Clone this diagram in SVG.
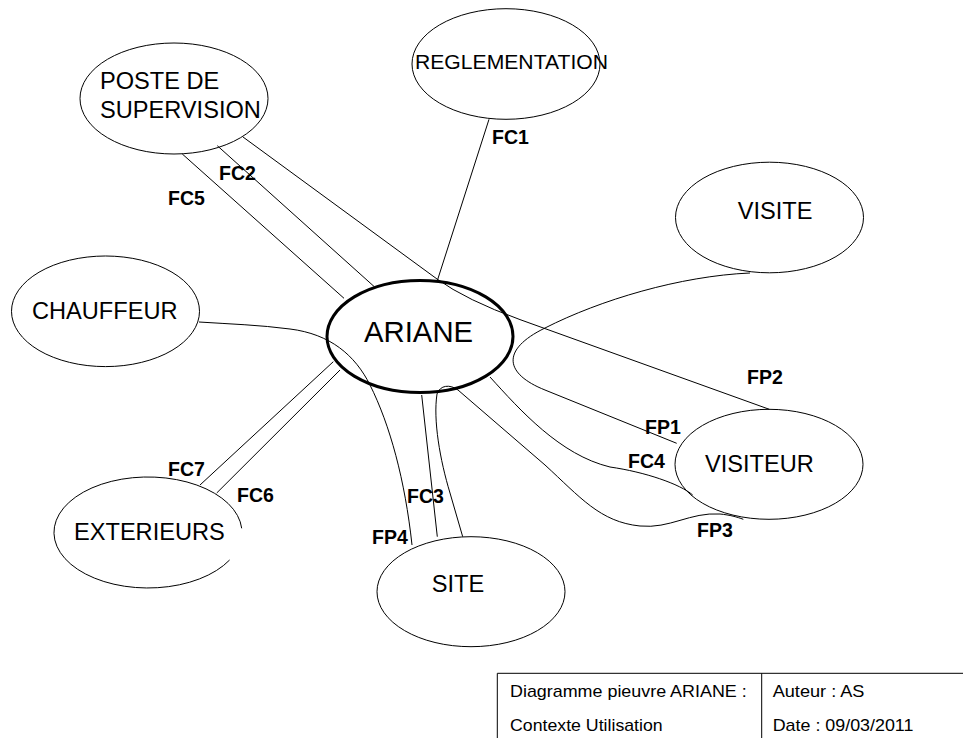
<svg xmlns="http://www.w3.org/2000/svg" width="963" height="738" viewBox="0 0 963 738">
<style>
.n{fill:#fff;stroke:#000;stroke-width:1}
.c{fill:none;stroke:#000;stroke-width:1}
.t{font-family:"Liberation Sans",Arial,sans-serif;font-size:23.6px;fill:#000}
.l{font-family:"Liberation Sans",Arial,sans-serif;font-size:19.5px;font-weight:bold;fill:#000}
.s{font-family:"Liberation Sans",Arial,sans-serif;font-size:17px;fill:#000}
</style>
<rect width="963" height="738" fill="#fff"/>
<g id="node-poste">
<ellipse class="n" cx="174" cy="98.5" rx="94" ry="55.5"/>
<text class="t" x="100" y="89">POSTE DE</text>
<text class="t" x="100" y="118">SUPERVISION</text>
</g>
<g id="node-reglementation">
<ellipse class="n" cx="506" cy="64" rx="94" ry="55.3"/>
<text class="t" x="415" y="69" style="font-size:20.6px" textLength="193" lengthAdjust="spacingAndGlyphs">REGLEMENTATION</text>
</g>
<g id="node-visite">
<ellipse class="n" cx="769.5" cy="217.5" rx="94" ry="55.3"/>
<text class="t" x="737.7" y="219">VISITE</text>
</g>
<g id="node-chauffeur">
<ellipse class="n" cx="105.5" cy="311.3" rx="94" ry="55.3"/>
<text class="t" x="32" y="319.3">CHAUFFEUR</text>
</g>
<g id="node-exterieurs">
<path class="n" d="M241.7,528.3 A94,55.5 0 1 0 229.6,560"/>
<text class="t" x="74" y="540">EXTERIEURS</text>
</g>
<g id="node-visiteur">
<ellipse class="n" cx="769" cy="464.3" rx="94" ry="55"/>
<text class="t" x="705" y="471.7">VISITEUR</text>
</g>
<g id="node-site">
<ellipse class="n" cx="471" cy="591.7" rx="94" ry="55"/>
<text class="t" x="431.7" y="591.7">SITE</text>
</g>
<g id="connectors">
<path class="c" d="M489,119.3 L437.3,280.7"/>
<path class="c" d="M182.3,154 L344,298.3"/>
<path class="c" d="M217.3,145.7 L374.3,286.7"/>
<path class="c" d="M243,137 L437,279 Q466,300 520,319.6 L769.3,409.3"/>
<path class="c" d="M750,273 C680,276 600,300 545,328 C500,350 505,374 545,390 L676.7,443.3"/>
<path class="c" d="M490,377 C520,410 560,455 610,467 C645,472 680,484 692.7,495"/>
<path class="c" d="M437,394 C440,385 450,384 458,390 L545,465 C580,497 600,522 640,526 C670,529 690,512 720,514 C730,515 737,517 743.3,519.3"/>
<path class="c" d="M421.7,395 L437.3,536.7"/>
<path class="c" d="M437,394 C433,420 440,460 450,493 L462.7,536.7"/>
<path class="c" d="M199,322 C230,324 260,325 290,329 C330,334 355,355 370,385 C390,425 405,480 412,545"/>
<path class="c" d="M200,485 L333.3,361.7"/>
<path class="c" d="M216.7,493 L340,370"/>
</g>
<g id="node-ariane">
<ellipse cx="420" cy="336.5" rx="93" ry="56" fill="none" stroke="#000" stroke-width="3"/>
<text class="t" x="364" y="341.7" style="font-size:29.3px">ARIANE</text>
</g>
<g id="labels">
<text class="l" x="492" y="144">FC1</text>
<text class="l" x="219" y="180">FC2</text>
<text class="l" x="168" y="205">FC5</text>
<text class="l" x="168" y="476">FC7</text>
<text class="l" x="237" y="502">FC6</text>
<text class="l" x="747" y="384">FP2</text>
<text class="l" x="645" y="434">FP1</text>
<text class="l" x="628" y="468">FC4</text>
<text class="l" x="697" y="537">FP3</text>
<text class="l" x="407" y="503">FC3</text>
<text class="l" x="372" y="544">FP4</text>
</g>
<g id="cartouche">
<path class="c" d="M497.3,738 V673.3 H963 M761.7,673.3 V738"/>
<text class="s" x="510" y="696.7" textLength="236.7" lengthAdjust="spacingAndGlyphs">Diagramme pieuvre ARIANE :</text>
<text class="s" x="510" y="730.7" textLength="152.7" lengthAdjust="spacingAndGlyphs">Contexte Utilisation</text>
<text class="s" x="772.7" y="696.7" textLength="91.7" lengthAdjust="spacingAndGlyphs">Auteur : AS</text>
<text class="s" x="772.7" y="730.7" textLength="140.7" lengthAdjust="spacingAndGlyphs">Date : 09/03/2011</text>
</g>
</svg>
